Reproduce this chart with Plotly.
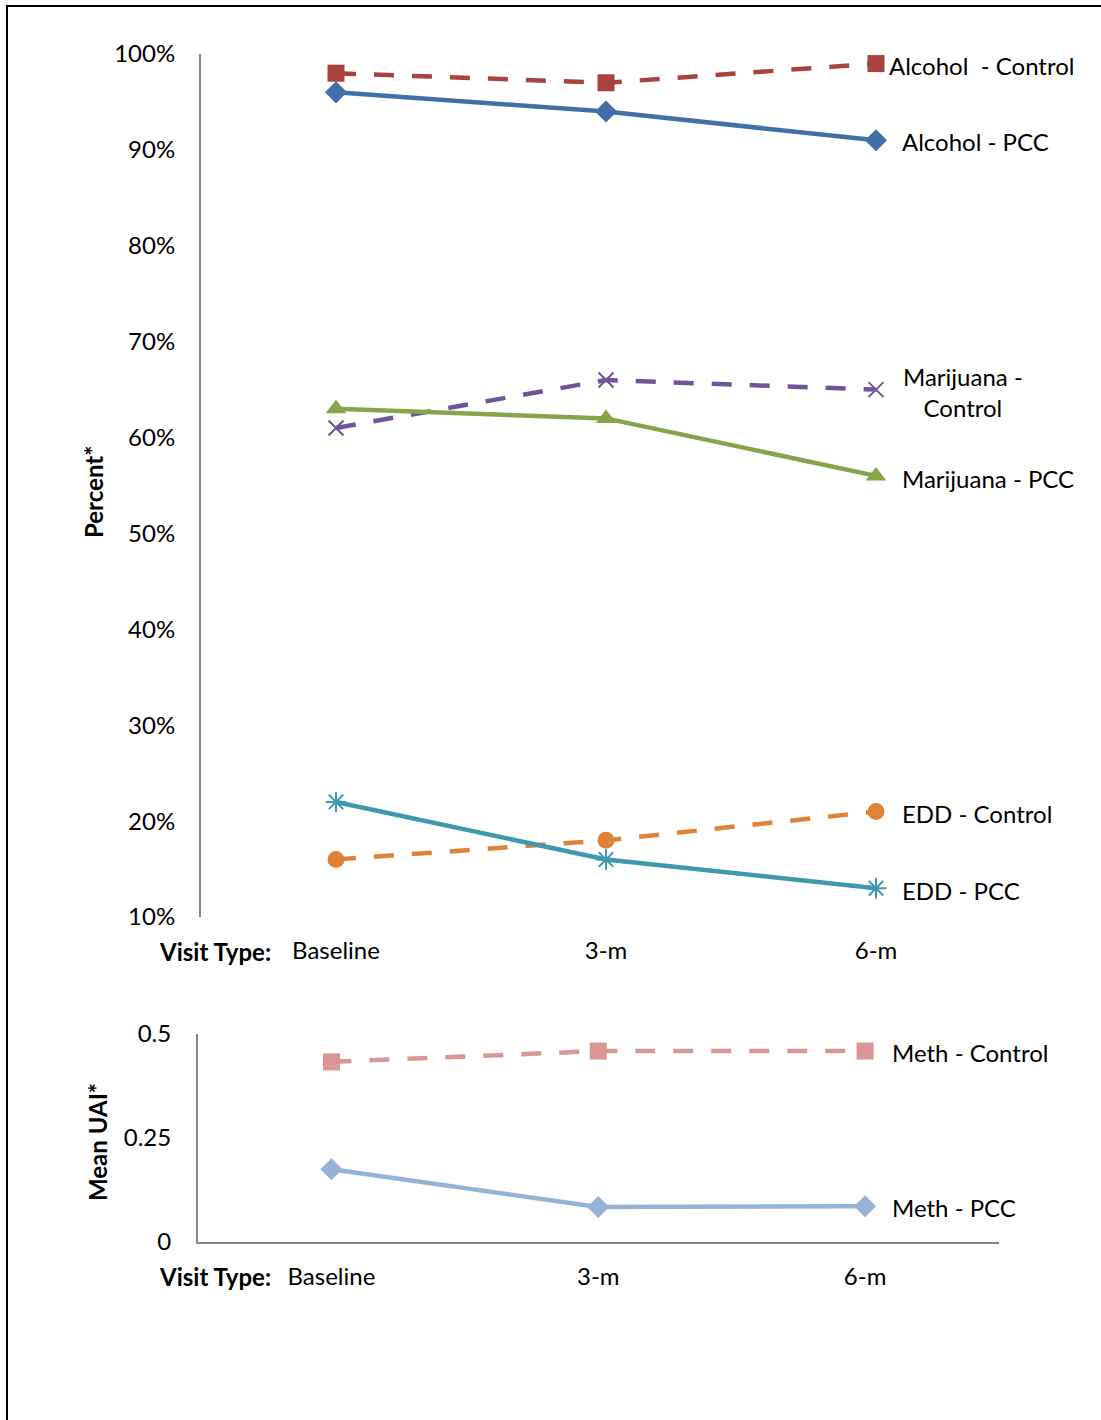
import plotly.graph_objects as go

visits = ["Baseline", "3-m", "6-m"]

alcohol_control = [98, 97, 99]
alcohol_pcc = [96, 94, 91]
marijuana_control = [61, 66, 65]
marijuana_pcc = [63, 62, 56]
edd_control = [16, 18, 21]
edd_pcc = [22, 16, 13]

meth_control = [0.433, 0.459, 0.459]
meth_pcc = [0.175, 0.084, 0.086]

pct_ticks = [10, 20, 30, 40, 50, 60, 70, 80, 90, 100]
pct_ticktext = [f"{v}%" for v in pct_ticks]
uai_ticks = [0, 0.25, 0.5]
uai_ticktext = ["0", "0.25", "0.5"]

W, H = 1101, 1420
FONT = "Lato, Open Sans, sans-serif"
AXIS_GREY = "#868686"

fig = go.Figure()

top_series = [
    (alcohol_control, "#A9413E", "20px,18px", "square", 17, None),
    (alcohol_pcc, "#4170A8", "solid", "diamond", 17, None),
    (marijuana_control, "#6F5597", "20px,18px", "x-thin-open", 15, 2),
    (marijuana_pcc, "#86A44A", "solid", "triangle-up", 18, None),
    (edd_control, "#DE8339", "20px,18px", "circle", 17, None),
    (edd_pcc, "#3D98B0", "solid", "asterisk-open", 17, 2),
]
for vals, col, dash, sym, size, mlw in top_series:
    marker = dict(symbol=sym, size=size, color=col)
    if mlw:
        marker["line"] = dict(color=col, width=mlw)
    fig.add_trace(go.Scatter(
        x=visits, y=vals, mode="lines+markers", xaxis="x", yaxis="y",
        line=dict(color=col, width=4.5, dash=dash), marker=marker,
        cliponaxis=False, showlegend=False))

bottom_series = [
    (meth_control, "#D99694", "20px,18px", "square", 17),
    (meth_pcc, "#95B3D7", "solid", "diamond", 17),
]
for vals, col, dash, sym, size in bottom_series:
    fig.add_trace(go.Scatter(
        x=visits, y=vals, mode="lines+markers", xaxis="x2", yaxis="y2",
        line=dict(color=col, width=4.5, dash=dash),
        marker=dict(symbol=sym, size=size, color=col),
        cliponaxis=False, showlegend=False))

font = dict(family=FONT, size=24, color="black")

fig.update_layout(
    width=W, height=H,
    margin=dict(l=0, r=0, t=0, b=0, autoexpand=False),
    paper_bgcolor="white", plot_bgcolor="white",
    font=font,
    xaxis=dict(domain=[201 / W, 1011 / W], range=[-0.5, 2.5], anchor="y",
               showline=False, showgrid=False, zeroline=False, ticks="",
               tickfont=font, ticklabelstandoff=17, automargin=False),
    yaxis=dict(domain=[1 - 917 / H, 1 - 54 / H], range=[10, 100], anchor="x",
               tickvals=pct_ticks, ticktext=pct_ticktext, showline=True,
               linecolor=AXIS_GREY, linewidth=2, showgrid=False,
               zeroline=False, ticks="", tickfont=font, ticklabelstandoff=19,
               automargin=False),
    xaxis2=dict(domain=[198 / W, 998.5 / W], range=[-0.5, 2.5], anchor="y2",
                showline=True, linecolor=AXIS_GREY, linewidth=2,
                showgrid=False, zeroline=False, ticks="",
                tickfont=font, ticklabelstandoff=12, automargin=False),
    yaxis2=dict(domain=[1 - 1242 / H, 1 - 1034 / H], range=[0, 0.5],
                anchor="x2", tickvals=uai_ticks, ticktext=uai_ticktext,
                showline=True, linecolor=AXIS_GREY, linewidth=2,
                showgrid=False, zeroline=False, ticks="", tickfont=font,
                ticklabelstandoff=20, automargin=False),
)

labels = [
    ("Alcohol  - Control", 887, 65, "left"),
    ("Alcohol - PCC", 900, 142, "left"),
    ("Marijuana -<br>Control", 963, 392, "center"),
    ("Marijuana - PCC", 900, 478, "left"),
    ("EDD - Control", 900, 813, "left"),
    ("EDD - PCC", 900, 890, "left"),
    ("Meth - Control", 890, 1052, "left"),
    ("Meth - PCC", 890, 1207, "left"),
]
for text, px, py, align in labels:
    xanchor = "left" if align == "left" else "center"
    fig.add_annotation(text=text, x=px / W, y=1 - py / H, xref="paper",
                       yref="paper", xanchor=xanchor, yanchor="middle",
                       align=align, showarrow=False, font=font)

for py in (951, 1276):
    fig.add_annotation(text="<b>Visit Type:</b>", x=273 / W, y=1 - py / H,
                       xref="paper", yref="paper", xanchor="right",
                       yanchor="middle", showarrow=False, font=font)

for text, px, py in (("<b>Percent*</b>", 93, 492), ("<b>Mean UAI*</b>", 97, 1142)):
    fig.add_annotation(text=text, x=px / W, y=1 - py / H, xref="paper",
                       yref="paper", xanchor="center", yanchor="middle",
                       textangle=-90, showarrow=False, font=font)

fig.add_shape(type="rect", xref="paper", yref="paper",
              x0=7 / W, x1=1.05, y0=-0.05, y1=1 - 6 / H,
              line=dict(color="black", width=2))

fig.write_html("out.html", config={"displayModeBar": False},
               post_script="document.body.style.margin='0';")
